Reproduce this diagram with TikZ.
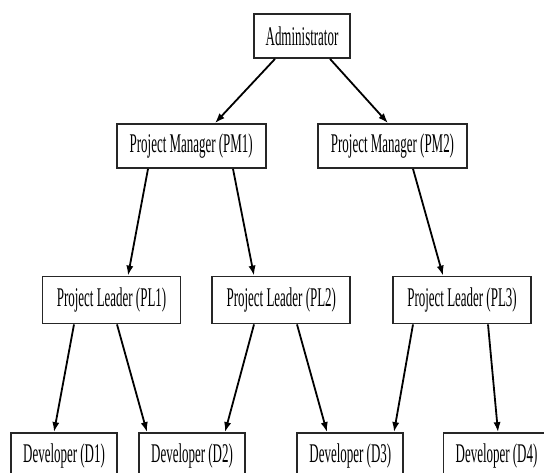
\documentclass[tikz,border=0pt]{standalone}
\usepackage{fontspec}
\setmainfont[FakeStretch=0.48]{Liberation Serif}
\usetikzlibrary{arrows.meta}
\tikzset{
	box/.style={draw=black!85, line width=0.9pt, fill=white, inner sep=0pt,
		font=\fontsize{13.5}{16}\selectfont},
	lead/.style={line width=0.9pt, -{Latex[length=5pt,width=3.6pt]}}
}
\begin{document}
\begin{tikzpicture}[x=0.5pt,y=-0.5pt]
		\useasboundingbox (0,0) rectangle (544,472);
		\node (admin) at (302,36)[box, minimum width=48pt, minimum height=22pt]{Administrator};
		\node (pm1) at (191.2,146)[box, minimum width=74.5pt, minimum height=22pt]{Project Manager (PM1)};
		\node (pm2) at (392.5,146)[box, minimum width=74.5pt, minimum height=22pt]{Project Manager (PM2)};
		\node (pl1) at (111.5,300)[box, minimum width=69pt, minimum height=23.5pt]{Project Leader (PL1)};
		\node (pl2) at (281.3,300)[box, minimum width=69pt, minimum height=23.5pt]{Project Leader (PL2)};
		\node (pl3) at (462,300)[box, minimum width=69pt, minimum height=23.5pt]{Project Leader (PL3)};
		\node (d1) at (64,456)[box, minimum width=53pt, minimum height=23pt]{Developer (D1)};
		\node (d2) at (192,456)[box, minimum width=53pt, minimum height=23pt]{Developer (D2)};
		\node (d3) at (350.3,456)[box, minimum width=53pt, minimum height=23pt]{Developer (D3)};
		\node (d4) at (496.5,456)[box, minimum width=53pt, minimum height=23pt]{Developer (D4)};
		% reporting lines
		\draw[lead] ([xshift=-13.5pt]admin.south) -- ([xshift=11.9pt]pm1.north);
		\draw[lead] ([xshift=14pt]admin.south) -- ([xshift=-2.25pt]pm2.north);
		\draw[lead] ([xshift=-21.6pt]pm1.south) -- ([xshift=8.25pt]pl1.north);
		\draw[lead] ([xshift=20.9pt]pm1.south) -- ([xshift=-13.65pt]pl2.north);
		\draw[lead] ([xshift=10.25pt]pm2.south) -- ([xshift=-9.5pt]pl3.north);
		\draw[lead] ([xshift=-18.75pt]pl1.south) -- ([xshift=-5pt]d1.north);
		\draw[lead] ([xshift=2.75pt]pl1.south) -- ([xshift=-22.5pt]d2.north);
		\draw[lead] ([xshift=-13.65pt]pl2.south) -- ([xshift=16.5pt]d2.north);
		\draw[lead] ([xshift=7.85pt]pl2.south) -- ([xshift=-11.65pt]d3.north);
		\draw[lead] ([xshift=-24.5pt]pl3.south) -- ([xshift=21.85pt]d3.north);
		\draw[lead] ([xshift=13pt]pl3.south) -- ([xshift=0.75pt]d4.north);
		\end{tikzpicture}
\end{document}
